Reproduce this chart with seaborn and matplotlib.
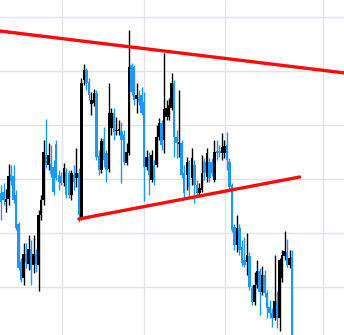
import numpy as np
import pandas as pd
import matplotlib
matplotlib.use("Agg")
import matplotlib.pyplot as plt
import seaborn as sns

# OHLC values (price units), one candle per trading period
open_ = [148, 149, 139, 142, 166, 165, 146, 117, 79, 63, 87, 77, 92, 76, 87, 76, 126, 141,
         186, 176, 177, 174, 197, 166, 165, 158, 169, 168, 146, 166, 163, 168, 124, 261, 271,
         259, 237, 238, 248, 185, 171, 202, 188, 172, 213, 228, 210, 210, 210, 206, 178, 188,
         276, 274, 242, 244, 246, 239, 174, 184, 161, 176, 176, 204, 218, 201, 224, 224, 233,
         258, 204, 197, 198, 168, 166, 179, 163, 176, 156, 148, 151, 179, 164, 179, 179, 161,
         190, 190, 188, 188, 196, 179, 156, 114, 96, 113, 94, 81, 79, 85, 53, 39, 56, 70, 49,
         66, 48, 34, 28, 23, 40, 23, 63, 85, 89, 76, 84]
high = [156, 158, 152, 177, 176, 176, 151, 119, 83, 98, 98, 106, 101, 106, 92, 131, 146, 201,
        222, 198, 196, 181, 201, 171, 169, 178, 173, 171, 171, 176, 193, 173, 263, 277, 273,
        263, 249, 252, 251, 191, 203, 214, 191, 258, 233, 233, 224, 221, 219, 211, 198, 311,
        278, 276, 258, 251, 254, 249, 191, 189, 191, 181, 216, 223, 221, 288, 241, 243, 268,
        261, 211, 251, 201, 176, 184, 181, 193, 181, 161, 158, 186, 183, 193, 183, 183, 201,
        201, 196, 208, 201, 209, 183, 158, 117, 126, 117, 101, 104, 108, 89, 56, 69, 81, 73, 75,
        71, 51, 41, 33, 86, 50, 83, 91, 110, 102, 91, 91]
low = [121, 136, 129, 136, 156, 138, 111, 71, 59, 56, 73, 71, 56, 68, 69, 50, 121, 136,
       173, 171, 164, 146, 161, 151, 156, 155, 143, 143, 141, 151, 154, 119, 121, 256, 251,
       241, 226, 235, 181, 166, 168, 174, 159, 169, 206, 201, 206, 206, 158, 176, 176, 186,
       246, 236, 228, 236, 226, 140, 171, 146, 159, 156, 174, 201, 191, 188, 221, 221, 231,
       184, 183, 184, 163, 143, 151, 144, 156, 138, 144, 145, 149, 161, 159, 159, 165, 159,
       181, 184, 181, 183, 171, 151, 109, 91, 89, 86, 75, 74, 66, 51, 36, 36, 53, 26, 46,
       44, 23, 23, 14, 21, 13, 10, 59, 81, 74, 73, -10]
close = [139, 141, 142, 165, 160, 141, 113, 73, 61, 87, 78, 92, 71, 87, 77, 126, 141, 189,
         176, 186, 167, 149, 163, 159, 158, 173, 146, 146, 168, 159, 168, 126, 258, 271, 258,
         246, 241, 248, 184, 171, 200, 181, 171, 228, 228, 209, 211, 212, 201, 179, 189, 274,
         249, 241, 246, 239, 228, 174, 184, 166, 186, 161, 204, 218, 196, 232, 233, 236, 258,
         204, 198, 199, 166, 148, 179, 154, 183, 156, 148, 153, 168, 168, 188, 163, 168, 189,
         188, 188, 194, 195, 181, 154, 111, 96, 113, 91, 78, 76, 86, 54, 39, 56, 70, 49, 66,
         48, 33, 28, 23, 40, 23, 81, 86, 90, 76, 83, -4]

# Trend lines (candle index, price)
upper_idx = [-0.5, 137.0]
upper_val = [310, 268]
lower_idx = [31.0, 119.0]
lower_val = [122, 164]

# Grid positions
x_grid = [24.3, 57.0, 89.2, 128.3]
y_grid = [54, 108, 162, 216, 270, 324]

df = pd.DataFrame({"open": open_, "high": high, "low": low, "close": close})
df["idx"] = np.arange(len(df))
df["up"] = df["close"] >= df["open"]

sns.set_theme(style="whitegrid", rc={"grid.color": "#e2e2ea", "grid.linewidth": 1.0})

fig = plt.figure(figsize=(3.44, 3.35), dpi=100)
ax = fig.add_axes([0, 0, 1, 1])
ax.set_facecolor("white")

UP = "#000000"
DOWN = "#2196f3"
colors = np.where(df["up"], UP, DOWN)

ax.vlines(df["idx"], df["low"], df["high"], colors=colors, linewidth=1.0, zorder=2)
body_bottom = np.minimum(df["open"], df["close"])
body_h = np.maximum(np.abs(df["close"] - df["open"]), 1.5)
ax.bar(df["idx"], body_h, bottom=body_bottom, width=0.98, color=colors,
       linewidth=0, zorder=3)

sns.lineplot(x=upper_idx, y=upper_val, color="#ff0a0a", linewidth=2.4, ax=ax, zorder=4)
sns.lineplot(x=lower_idx, y=lower_val, color="#ff0a0a", linewidth=2.4, ax=ax, zorder=4)

ax.set_xlim(-0.4, 136.65)
ax.set_ylim(6, 341)
ax.set_xticks(x_grid)
ax.set_yticks(y_grid)
ax.tick_params(labelbottom=False, labelleft=False, length=0)
ax.grid(True)
ax.set_axisbelow(True)
for s in ax.spines.values():
    s.set_visible(False)

fig.savefig("out.png", dpi=100)
